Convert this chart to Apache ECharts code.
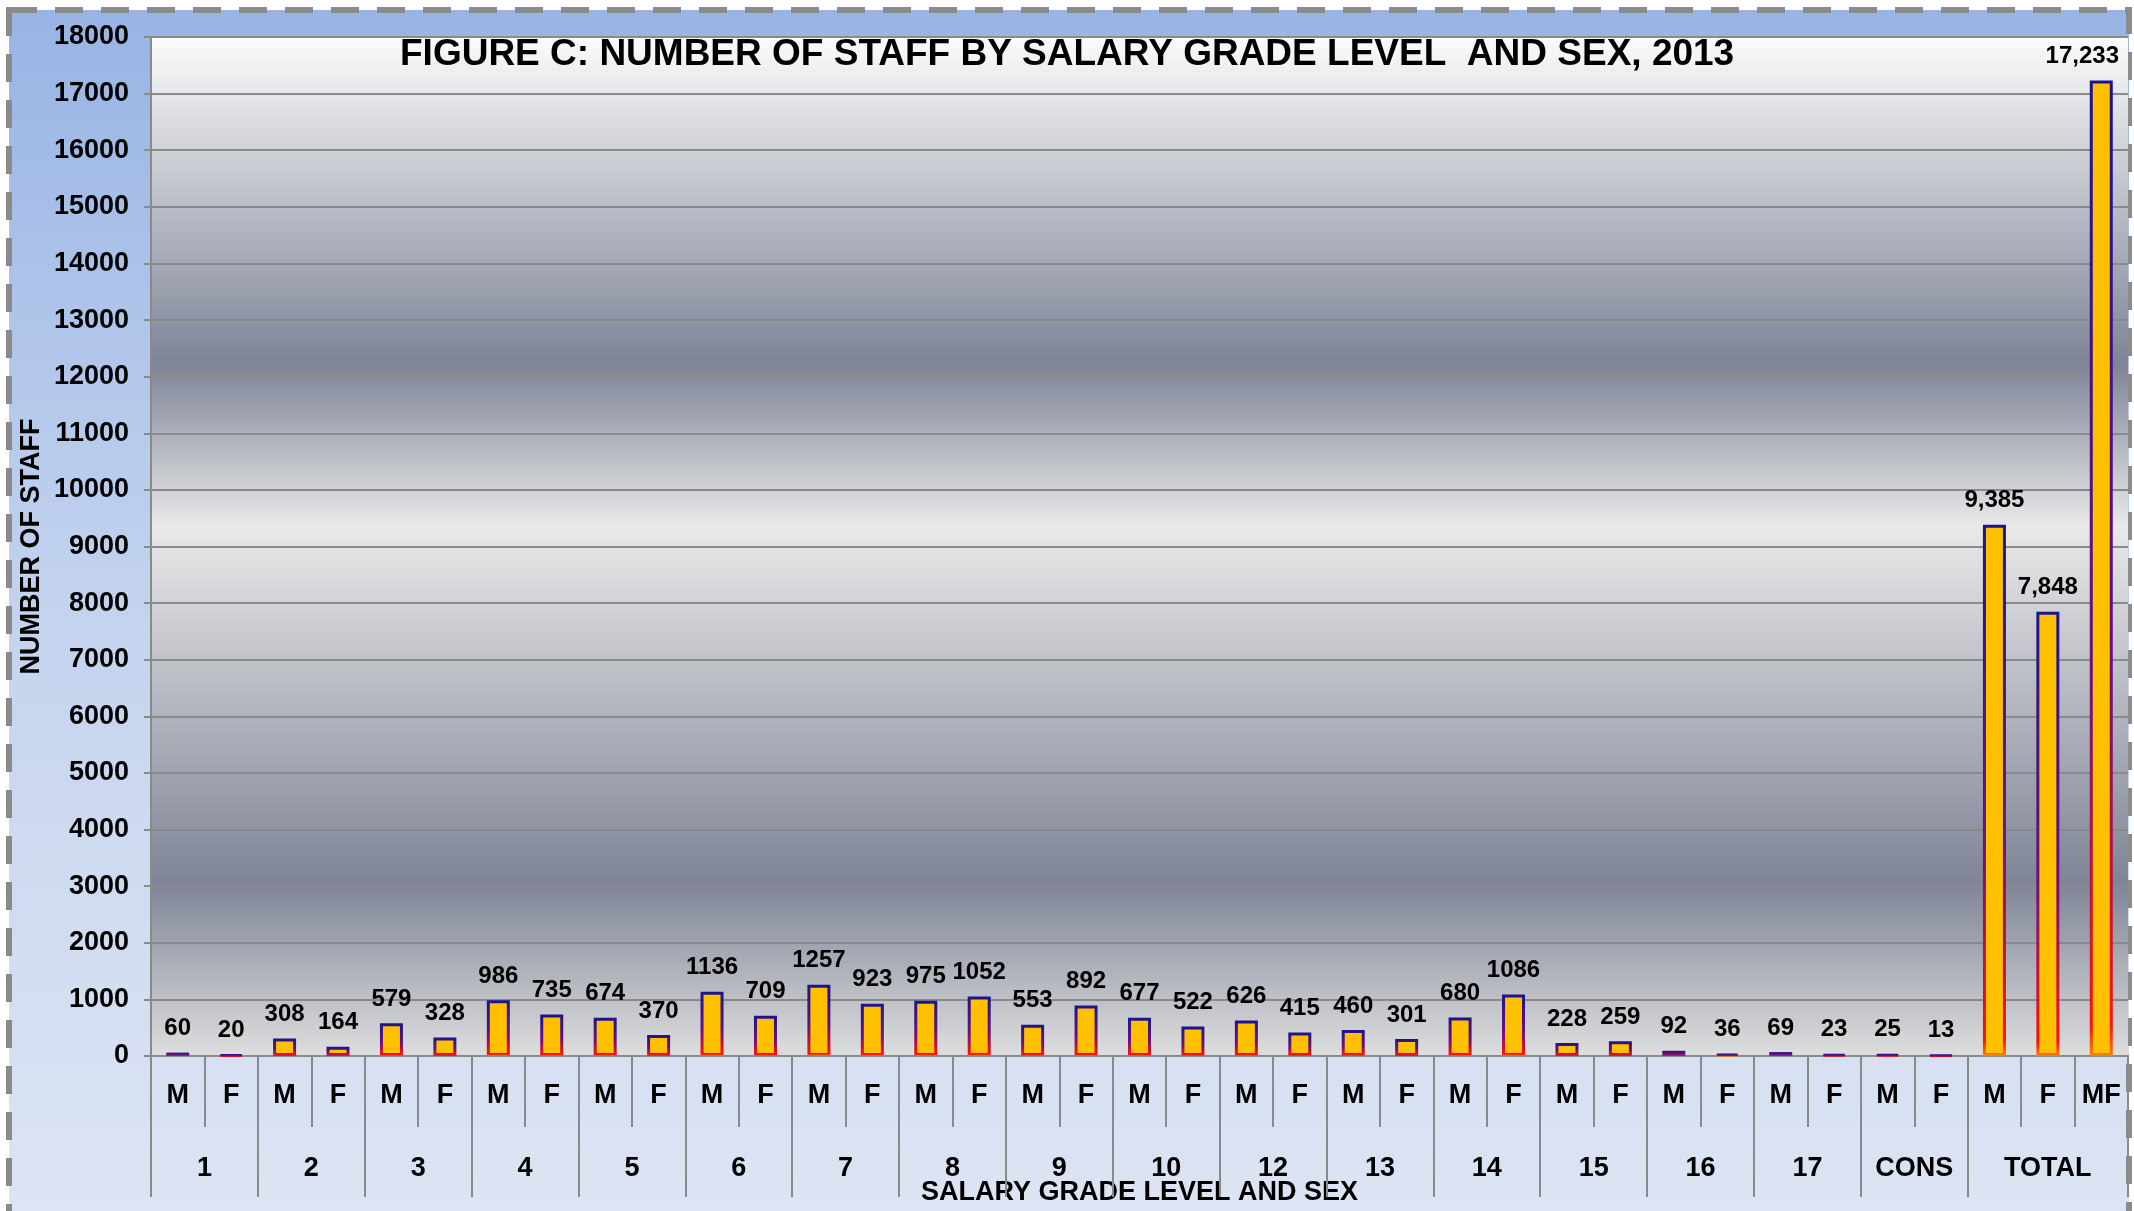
<!DOCTYPE html>
<html>
<head>
<meta charset="utf-8">
<script src="https://cdn.jsdelivr.net/npm/echarts@6/dist/echarts.min.js"></script>
<style>
html,body{margin:0;padding:0;background:#ffffff;}
#chart{width:2134px;height:1211px;}
</style>
</head>
<body>
<div id="chart"></div>
<script>
// ---- data ----
var groups = ['1','2','3','4','5','6','7','8','9','10','12','13','14','15','16','17','CONS','TOTAL'];
var sexLabels = ['M','F','M','F','M','F','M','F','M','F','M','F','M','F','M','F','M','F','M','F','M','F','M','F','M','F','M','F','M','F','M','F','M','F','M','F','MF'];
var groupSizes = [2,2,2,2,2,2,2,2,2,2,2,2,2,2,2,2,2,3];
var staff = [60,20,308,164,579,328,986,735,674,370,1136,709,1257,923,975,1052,553,892,677,522,626,415,460,301,680,1086,228,259,92,36,69,23,25,13,9385,7848,17233];
var totalStart = 34; // index where TOTAL bars begin (shown with thousands separator)
var yTicks = {min:0, max:18000, interval:1000};
var titleText = 'FIGURE C: NUMBER OF STAFF BY SALARY GRADE LEVEL  AND SEX, 2013';
var yName = 'NUMBER OF STAFF';
var xName = 'SALARY GRADE LEVEL AND SEX';

// ---- build half-step group axis ----
var nCat = sexLabels.length;
var halfData = [];
for (var k = 0; k <= nCat * 2; k++) halfData.push('');
var boundaries = {};
var pos = 0;
boundaries[0] = true;
for (var g = 0; g < groups.length; g++) {
  var center = pos + groupSizes[g] / 2; // in category units from left edge
  halfData[Math.round(center * 2)] = groups[g];
  pos += groupSizes[g];
  boundaries[pos * 2] = true;
}

// last label nudged left so it stays inside the frame (as in the original)
var seriesData = staff.map(function(v, i){
  return i === staff.length - 1 ? {value:v, label:{offset:[-19,0]}} : v;
});

var FONT = '"Liberation Sans", Arial, sans-serif';
var chart = echarts.init(document.getElementById('chart'), null, {renderer:'canvas'});

var borderGrad = {type:'linear', x:0, y:0, x2:0, y2:1, colorStops:[
  {offset:0, color:'#1a1490'}, {offset:0.6, color:'#6a1080'}, {offset:0.97, color:'#ff1010'}, {offset:1, color:'#ff8000'}]};

chart.setOption({
  animation:false,
  graphic:[{
    type:'rect', z:-10, silent:true,
    shape:{x:9, y:10, width:2120, height:1320},
    style:{
      fill:{type:'linear', x:0, y:0, x2:0, y2:1, colorStops:[
        {offset:0, color:'#98b4e4'}, {offset:0.45, color:'#c3d3ee'}, {offset:1, color:'#e2e8f4'}]},
      stroke:'#8a8a8a', lineWidth:6, lineDash:[28,18]
    }
  }],
  title:{
    text:titleText, left:395, top:31,
    textStyle:{fontFamily:FONT, fontSize:37, fontWeight:'bold', color:'#000'}
  },
  grid:{
    left:151, top:37, right:6, bottom:155, show:true, borderWidth:0,
    containLabel:false, outerBoundsMode:'none',
    backgroundColor:{type:'linear', x:0, y:0, x2:0, y2:1, colorStops:[
      {offset:0, color:'#fbfbfb'},
      {offset:0.32, color:'#7e8497'},
      {offset:0.48, color:'#e8e8e8'},
      {offset:0.83, color:'#7f8597'},
      {offset:1, color:'#dedede'}]}
  },
  xAxis:[{
    type:'category', data:sexLabels, position:'bottom',
    axisLine:{show:true, lineStyle:{color:'#8a8a8a', width:2}},
    axisTick:{show:true, interval:0, length:71, lineStyle:{color:'#8a8a8a', width:2}},
    axisLabel:{interval:0, margin:26, fontFamily:FONT, fontSize:27, fontWeight:'bold', color:'#000'}
  },{
    type:'category', data:halfData, position:'bottom', boundaryGap:false,
    axisLine:{show:false},
    axisTick:{show:true, length:141, interval:function(i){return !!boundaries[i];}, lineStyle:{color:'#8a8a8a', width:2}},
    axisLabel:{interval:0, margin:99, fontFamily:FONT, fontSize:27, fontWeight:'bold', color:'#000'},
    name:xName, nameLocation:'middle', nameGap:123, nameMoveOverlap:false,
    nameTextStyle:{fontFamily:FONT, fontSize:27, fontWeight:'bold', color:'#000'}
  }],
  yAxis:{
    type:'value', min:yTicks.min, max:yTicks.max, interval:yTicks.interval,
    axisLine:{show:true, lineStyle:{color:'#8a8a8a', width:2}},
    axisTick:{show:true, length:7, lineStyle:{color:'#8a8a8a', width:2}},
    splitLine:{show:true, lineStyle:{color:'#8a8a8a', width:2}},
    axisLabel:{margin:22, fontFamily:FONT, fontSize:27, fontWeight:'bold', color:'#000',
      formatter:function(v){return String(v);}},
    name:yName, nameLocation:'middle', nameGap:106, nameRotate:90, nameMoveOverlap:false,
    nameTextStyle:{fontFamily:FONT, fontSize:27, fontWeight:'bold', color:'#000'}
  },
  series:[{
    type:'bar', xAxisIndex:0, yAxisIndex:0, data:seriesData, barWidth:23,
    itemStyle:{color:'#ffc000', borderColor:borderGrad, borderWidth:3},
    label:{
      show:true, position:'top', distance:12,
      fontFamily:FONT, fontSize:24, fontWeight:'bold', color:'#000',
      formatter:function(p){
        return p.dataIndex >= totalStart ? p.value.toLocaleString('en-US') : String(p.value);
      }
    }
  }]
});
</script>
</body>
</html>
